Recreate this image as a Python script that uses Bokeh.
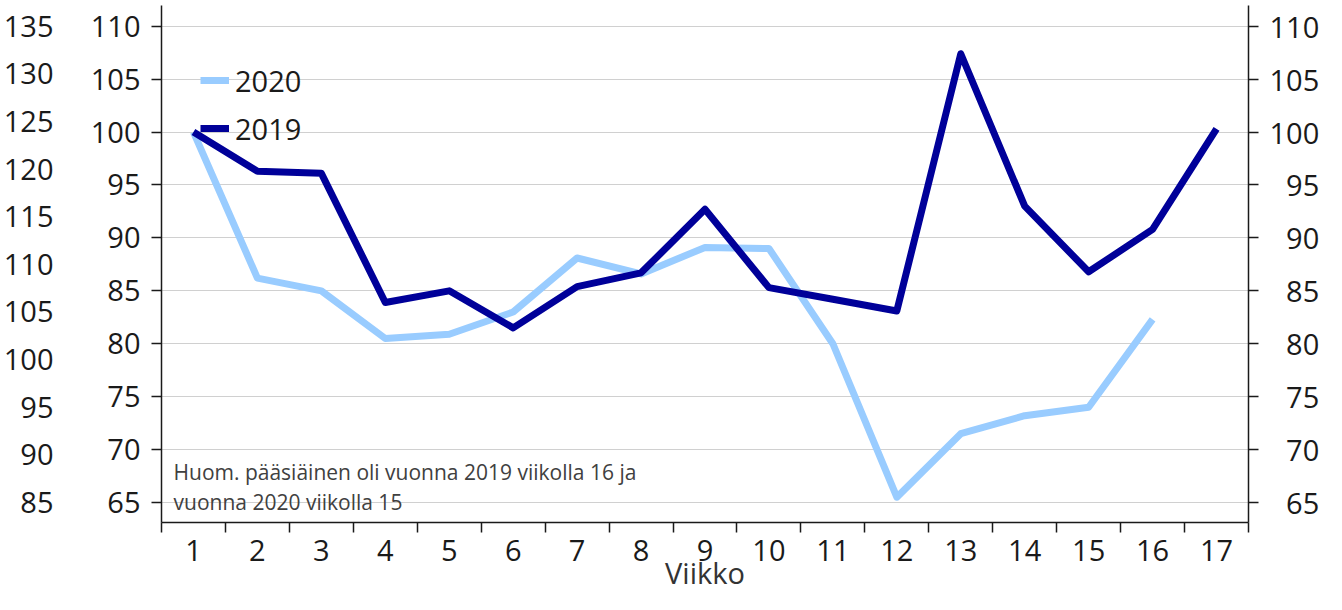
from bokeh.plotting import figure
from bokeh.models import LinearAxis, Range1d, FixedTicker, Legend, LegendItem, Label
from bokeh.embed import file_html
from bokeh.resources import INLINE

# ---- data ----
weeks_2019 = list(range(1, 18))
index_2019 = [100.0, 96.3, 96.1, 83.9, 85.0, 81.5, 85.4, 86.7, 92.7, 85.3,
              84.2, 83.1, 107.4, 93.0, 86.8, 90.8, 100.3]
weeks_2020 = list(range(1, 17))
index_2020 = [100.0, 86.2, 85.0, 80.5, 80.9, 83.0, 88.1, 86.6, 89.1, 89.0,
              80.0, 65.5, 71.5, 73.2, 74.0, 82.3]
y_ticks = [65, 70, 75, 80, 85, 90, 95, 100, 105, 110]
aux_ticks = [85, 90, 95, 100, 105, 110, 115, 120, 125, 130, 135]
x_ticks = list(range(1, 18))
x_bounds = [i + 0.5 for i in range(0, 18)]
series_labels = ["2020", "2019"]
note_lines = ["Huom. pääsiäinen oli vuonna 2019 viikolla 16 ja",
              "vuonna 2020 viikolla 15"]
x_title = "Viikko"

FONT = "Open Sans"
C2019 = "#000099"
C2020 = "#99CCFF"
TXT = "#1a1a1a"
FS = "29px"

y0, y1 = 63.11, 111.96
a0 = 85 + (y0 - 65) * 50 / 45
a1 = 85 + (y1 - 65) * 50 / 45

p = figure(width=1326, height=594, output_backend="svg", toolbar_location=None,
           x_range=Range1d(0.5, 17.5), y_range=Range1d(y0, y1),
           min_border_left=161, min_border_right=78, min_border_top=5,
           min_border_bottom=72, outline_line_color=None,
           background_fill_color="white", border_fill_color="white")
p.extra_y_ranges = {"aux": Range1d(a0, a1)}

p.xgrid.visible = False
p.ygrid.ticker = FixedTicker(ticks=y_ticks)
p.ygrid.grid_line_color = "#d0d0d0"
p.ygrid.grid_line_width = 1.2


def style_axis(ax):
    ax.major_label_text_font = FONT
    ax.major_label_text_font_size = FS
    ax.major_label_text_color = TXT
    ax.axis_line_color = "#1a1a1a"
    ax.axis_line_width = 1.5
    ax.major_tick_line_color = "#1a1a1a"
    ax.major_tick_line_width = 1.5


# main left y axis
ya = p.yaxis[0]
style_axis(ya)
ya.ticker = FixedTicker(ticks=y_ticks)
ya.major_tick_out = 10
ya.major_tick_in = 0
ya.minor_tick_line_color = None
ya.major_label_standoff = 11

# right axis (labels padded with figure spaces so they line up on the right)
yr = LinearAxis(ticker=FixedTicker(ticks=y_ticks))
style_axis(yr)
yr.major_tick_out = 10
yr.major_tick_in = 0
yr.minor_tick_line_color = None
yr.major_label_standoff = 11
yr.major_label_overrides = {t: ("\u2007" + str(t)) if t < 100 else str(t) for t in y_ticks}
p.add_layout(yr, "right")

# outer left axis
yaux = LinearAxis(y_range_name="aux", ticker=FixedTicker(ticks=aux_ticks))
style_axis(yaux)
yaux.axis_line_color = None
yaux.major_tick_line_color = None
yaux.minor_tick_line_color = None
yaux.major_tick_out = 0
yaux.major_tick_in = 0
yaux.major_label_standoff = 34
p.add_layout(yaux, "left")

# x axis
xa = p.xaxis[0]
style_axis(xa)
xa.ticker = FixedTicker(ticks=x_ticks, minor_ticks=x_bounds)
xa.major_tick_out = 0
xa.major_tick_in = 0
xa.minor_tick_out = 10
xa.minor_tick_in = 0
xa.minor_tick_line_color = "#1a1a1a"
xa.minor_tick_line_width = 1.5
xa.major_label_standoff = 7
xa.axis_label = x_title
xa.axis_label_text_font = FONT
xa.axis_label_text_font_size = FS
xa.axis_label_text_font_style = "normal"
xa.axis_label_text_color = "#333333"
xa.axis_label_standoff = -11

r20 = p.line(weeks_2020, index_2020, line_color=C2020, line_width=7, line_join="round")
r19 = p.line(weeks_2019, index_2019, line_color=C2019, line_width=7, line_join="round")

legend = Legend(items=[LegendItem(label=series_labels[0], renderers=[r20]),
                       LegendItem(label=series_labels[1], renderers=[r19])],
                location=(39, 370), glyph_width=29, glyph_height=48,
                label_height=48, spacing=0, padding=0, margin=0,
                label_standoff=6, border_line_color=None,
                background_fill_alpha=0,
                label_text_font=FONT, label_text_font_size=FS,
                label_text_color=TXT)
p.add_layout(legend)

for i, line in enumerate(note_lines):
    p.add_layout(Label(x=0.688, y=67.84 - i * 2.84, text=line,
                       text_font=FONT, text_font_size="21px",
                       text_color="#404040", text_baseline="alphabetic"))

open("out.html", "w").write(file_html(p, INLINE))
